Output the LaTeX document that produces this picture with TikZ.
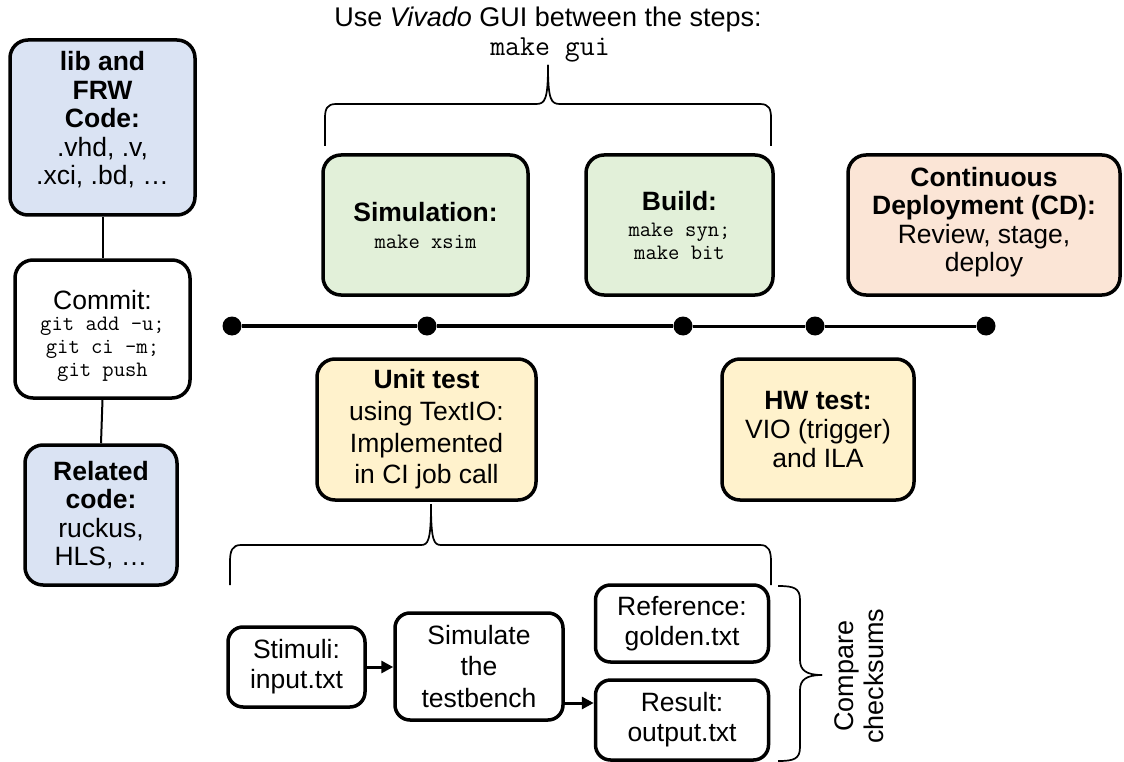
\documentclass[tikz,border=0pt]{standalone}
\usepackage{fontspec}
\setmainfont{Liberation Sans}
\usetikzlibrary{arrows.meta}
\definecolor{bluef}{HTML}{DAE3F3}
\definecolor{greenf}{HTML}{E2F0D9}
\definecolor{peachf}{HTML}{FBE5D6}
\definecolor{yellowf}{HTML}{FFF2CC}
\newcommand\mymono[1]{{\ttfamily\fontsize{22}{24}\selectfont #1}}
\newcommand\padtop[1]{\rule{0pt}{#1}}
\newcommand\padbot[1]{\rule[-#1]{0pt}{#1}}
\begin{document}
\begin{tikzpicture}[x=1pt,y=-1pt,
  box/.style={draw, line width=3.5pt, rounded corners=18pt, align=center, inner sep=0pt,
    font=\fontsize{26.5}{28.5}\selectfont},
  lsp/.style={font=\fontsize{26.5}{#1}\selectfont},
  smallbox/.style={box, rounded corners=15pt, line width=3.5pt},
  dot/.style={circle, fill=black, inner sep=0pt, minimum size=19pt},
  brace/.style={line width=1.7pt},
  arr/.style={line width=3pt, -{Triangle[length=12pt,width=12pt]}},
  tl/.style={line width=3.8pt},
  txt/.style={align=center, inner sep=0pt, font=\fontsize{26.5}{28}\selectfont}
]
\useasboundingbox (0,0) rectangle (1124,762);

% left column
\node[box, fill=bluef, minimum width=185pt, minimum height=175pt] (lib) at (102.5,127.5)
  {\textbf{lib and}\\\textbf{FRW}\\\textbf{Code:}\\.vhd, .v,\\.xci, .bd, \dots\padbot{19pt}};
\node[box, fill=white, minimum width=175pt, minimum height=138pt, lsp=27] (commit) at (102.5,329)
  {\padtop{33pt}Commit:\\[-6pt]\mymono{git add –u;}\\[-4pt]\mymono{git ci –m;}\\[-4pt]\mymono{git push}};
\node[box, fill=bluef, minimum width=152pt, minimum height=140pt] (related) at (101,515)
  {\textbf{Related}\\\textbf{code:}\\ruckus,\\HLS, \dots};
\draw[line width=2pt] (lib.south) -- (commit.north);
\draw[line width=2pt] (commit.south) -- (related.north);

% timeline
\node[dot] (d1) at (232,326) {};
\node[dot] (d2) at (427,326) {};
\node[dot] (d3) at (683,326) {};
\node[dot] (d4) at (815,326) {};
\node[dot] (d5) at (986,326) {};
\draw[tl] (d1) -- (d2) -- (d3);
\draw[line width=3pt] (d3) -- (d4) -- (d5);

% upper boxes
\node[box, fill=greenf, minimum width=205pt, minimum height=140pt, lsp=27] (sim) at (425.5,225)
  {\textbf{Simulation:}\\[0pt]\mymono{make xsim}};
\node[box, fill=greenf, minimum width=187pt, minimum height=140pt, lsp=27] (build) at (679.5,225)
  {\textbf{Build:}\\[-1pt]\mymono{make syn;}\\[-4pt]\mymono{make bit}};
\node[box, fill=peachf, minimum width=272pt, minimum height=140pt] (cd) at (984,225)
  {\textbf{Continuous}\\\textbf{Deployment (CD):}\\Review, stage,\\deploy\padbot{11pt}};

% lower boxes
\node[box, fill=yellowf, minimum width=219pt, minimum height=141pt, lsp=31.7] (unit) at (426.5,429.5)
  {\textbf{Unit test}\\using TextIO:\\Implemented\\in CI job call};
\node[box, fill=yellowf, minimum width=192pt, minimum height=141pt, lsp=29] (hw) at (818,429.5)
  {\textbf{HW test:}\\VIO (trigger)\\and ILA};

% top label and brace
\node[txt, font=\fontsize{27}{28}\selectfont] (title) at (548,20) {Use \textit{Vivado} GUI between the steps:};
\node[txt] (gui) at (550,50) {\ttfamily\fontsize{29}{30}\selectfont make gui};
\coordinate (ttip) at (548,65);
\draw[brace] (325,146) -- (325,118) .. controls (325,109) and (327,104) .. (336,104)
  -- (536,104) .. controls (545,104) and (548,100) .. (ttip);
\draw[brace] (771,146) -- (771,118) .. controls (771,109) and (769,104) .. (760,104)
  -- (560,104) .. controls (551,104) and (548,100) .. (ttip);

% lower brace
\coordinate (btip) at (431,504);
\draw[brace] (230,585) -- (230,562) .. controls (230,551) and (232,545) .. (241,545)
  -- (421,545) .. controls (428,545) and (431,541) .. (btip);
\draw[brace] (771,585) -- (771,562) .. controls (771,551) and (769,545) .. (760,545)
  -- (441,545) .. controls (434,545) and (431,541) .. (btip);

% bottom flow
\node[smallbox, fill=white, minimum width=137pt, minimum height=80pt, lsp=30] (stim) at (296.5,667)
  {Stimuli:\\input.txt};
\node[smallbox, fill=white, minimum width=168pt, minimum height=107pt, lsp=31.7] (simtb) at (479,666.5)
  {Simulate\\the\\testbench};
\node[smallbox, fill=white, minimum width=173pt, minimum height=77pt, lsp=30] (ref) at (682,623.5)
  {Reference:\\golden.txt};
\node[smallbox, fill=white, minimum width=173pt, minimum height=80pt, lsp=30] (res) at (682,720)
  {Result:\\output.txt};
\draw[arr] (stim.east) -- (simtb.west |- stim.east);
\coordinate (a2) at (563,703);
\draw[arr] (simtb.east |- a2) -- (res.west |- a2);

% right brace
\coordinate (rtip) at (822,675);
\draw[brace] (778,586) .. controls (794,586) and (800,588) .. (800,600) -- (800,660)
  .. controls (800,670) and (806,675) .. (rtip);
\draw[brace] (778,761) .. controls (794,761) and (800,759) .. (800,747) -- (800,690)
  .. controls (800,680) and (806,675) .. (rtip);
\node[txt, rotate=90, font=\fontsize{27}{30}\selectfont] (cmp) at (859,676) {Compare\\checksums};
\end{tikzpicture}
\end{document}
